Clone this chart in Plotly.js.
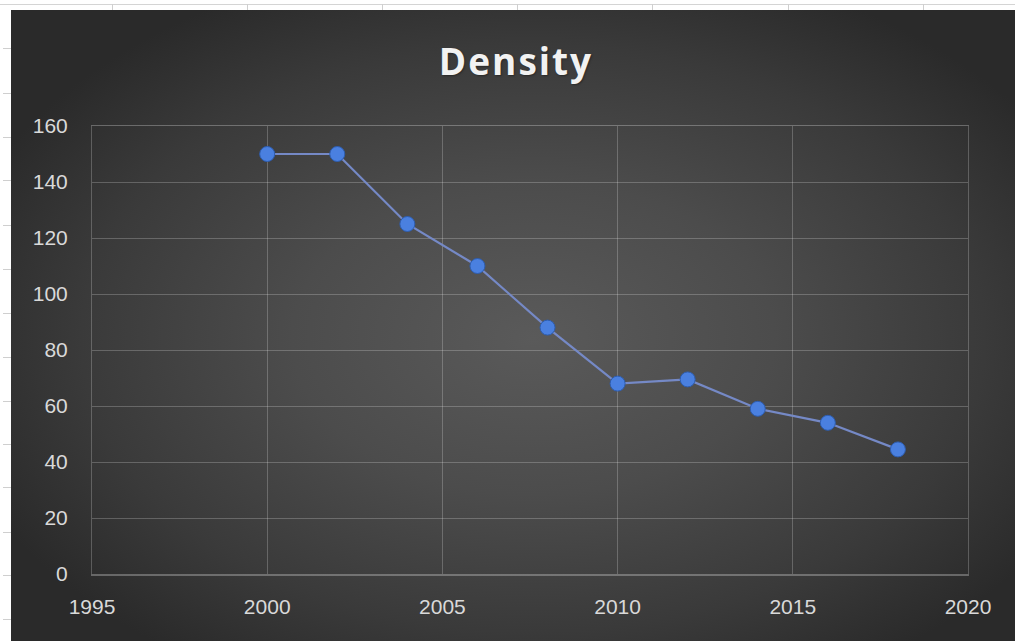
<!DOCTYPE html>
<html>
<head>
<meta charset="utf-8">
<script src="https://cdn.plot.ly/plotly-3.0.1.min.js"></script>
<style>
  html, body { margin: 0; padding: 0; background: #ffffff; }
  #sheet { position: relative; width: 1015px; height: 641px; overflow: hidden; background: #ffffff; }
  #rowline { position: absolute; left: 0; top: 4px; width: 1015px; height: 1px; background: #d4d4d4; }
  .vtick { position: absolute; top: 4px; width: 1px; height: 6px; background: #cfcfcf; }
  .htick { position: absolute; left: 3px; width: 8px; height: 1px; background: #cfcfcf; }
  #panel {
    position: absolute; left: 11px; top: 10px; width: 1004px; height: 631px;
    background: radial-gradient(ellipse 60% 62% at 52% 52%, #5a5a5a 0%, #4c4c4c 40%, #3a3a3a 75%, #2a2a2a 100%);
  }
  #chart { position: absolute; left: 0; top: 0; width: 1015px; height: 641px; }
  #chart .gtitle { letter-spacing: 2px; }
</style>
</head>
<body>
<div id="sheet">
  <div id="rowline"></div>
  <div id="panel"></div>
  <div id="chart"></div>
</div>
<script>
// Density by year
const years   = [2000, 2002, 2004, 2006, 2008, 2010, 2012, 2014, 2016, 2018];
const density = [150, 150, 125, 110, 88, 68, 69.5, 59, 54, 44.5];

const xTickVals = [1995, 2000, 2005, 2010, 2015, 2020];
const yTickVals = [0, 20, 40, 60, 80, 100, 120, 140, 160];

// spreadsheet cell borders peeking out around the chart object
const sheet = document.getElementById('sheet');
[112, 247, 382, 517, 652, 788, 923].forEach(function (x) {
  const d = document.createElement('div');
  d.className = 'vtick';
  d.style.left = x + 'px';
  sheet.appendChild(d);
});
[48, 93, 137, 180, 225, 269, 313, 357, 401, 444, 487, 532, 575, 619].forEach(function (y) {
  const d = document.createElement('div');
  d.className = 'htick';
  d.style.top = y + 'px';
  sheet.appendChild(d);
});

const gridCol = 'rgba(255,255,255,0.22)';
const frameCol = 'rgba(255,255,255,0.28)';
const tickFont = { family: 'Liberation Sans, Arial, sans-serif', size: 21, color: '#d9d9d9' };

const trace = {
  x: years,
  y: density,
  type: 'scatter',
  mode: 'lines+markers',
  line: { color: '#7589c6', width: 2.2 },
  marker: { size: 15, color: '#4a80e0', line: { color: '#2d5db0', width: 1 } },
  hoverinfo: 'x+y'
};

const layout = {
  width: 1015,
  height: 641,
  paper_bgcolor: 'rgba(0,0,0,0)',
  plot_bgcolor: 'rgba(0,0,0,0)',
  margin: { l: 92, r: 47, t: 126, b: 67 },
  showlegend: false,
  title: {
    text: '<b>Density</b>',
    font: { family: 'Open Sans, sans-serif', size: 37, color: '#f2f2f2', shadow: '1px 1px 2px rgba(0,0,0,0.35)' },
    x: 516 / 1015,
    xref: 'container',
    xanchor: 'center',
    y: 1 - 62 / 641,
    yref: 'container',
    yanchor: 'middle'
  },
  xaxis: {
    range: [1995, 2020],
    tickvals: xTickVals,
    ticktext: xTickVals.map(String),
    showgrid: true,
    gridcolor: gridCol,
    gridwidth: 1,
    zeroline: false,
    showline: true,
    mirror: true,
    linecolor: frameCol,
    linewidth: 1.5,
    ticks: '',
    ticklabelstandoff: 13,
    tickfont: tickFont
  },
  yaxis: {
    range: [0, 160],
    tickvals: yTickVals,
    ticktext: yTickVals.map(String),
    showgrid: true,
    gridcolor: gridCol,
    gridwidth: 1,
    zeroline: false,
    showline: true,
    mirror: true,
    linecolor: gridCol,
    linewidth: 1,
    ticks: '',
    ticklabelstandoff: 19,
    tickfont: tickFont
  }
};

Plotly.newPlot('chart', [trace], layout, { displayModeBar: false, staticPlot: true });
</script>
</body>
</html>
